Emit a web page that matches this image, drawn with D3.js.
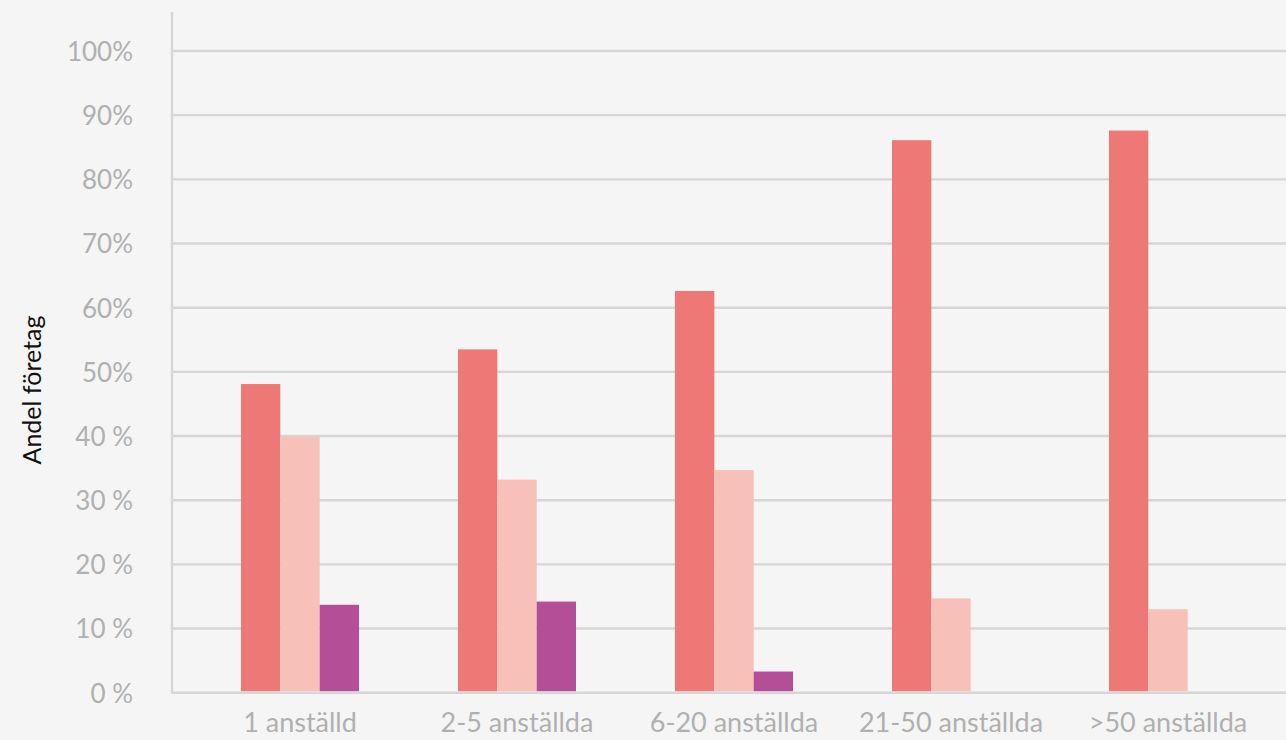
<!DOCTYPE html>
<html><head><meta charset="utf-8">
<script src="https://cdn.jsdelivr.net/npm/d3@7"></script>
<style>
html,body{margin:0;padding:0;background:#f5f5f5;}
svg{display:block;}
</style></head>
<body>
<svg id="chart" width="1286" height="740"></svg>
<script>
const categories = ["1 anställd", "2-5 anställda", "6-20 anställda", "21-50 anställda", ">50 anställda"];
const seriesNames = ["Serie 1", "Serie 2", "Serie 3"];
const series1 = [48.1, 53.5, 62.6, 86.1, 87.6];
const series2 = [39.9, 33.2, 34.7, 14.7, 13.0];
const series3 = [13.7, 14.2, 3.3, null, null];
const tickValues = [0, 10, 20, 30, 40, 50, 60, 70, 80, 90, 100];
const tickLabels = ["0 %", "10 %", "20 %", "30 %", "40 %", "50%", "60%", "70%", "80%", "90%", "100%"];
const colors = ["#ee7875", "#f7c0b8", "#b44f97"];
const yTitle = "Andel företag";

const svg = d3.select("#chart");
const W = 1286, H = 740;
svg.append("rect").attr("width", W).attr("height", H).attr("fill", "#f5f5f5");

const plotLeft = 172, plotRight = 1286;
const y = d3.scaleLinear().domain([0, 100]).range([692.7, 51]);
const x = d3.scaleBand().domain(categories).range([191.5, 1276.5]).paddingInner(0.456).paddingOuter(0.228);
const xs = d3.scaleBand().domain(seriesNames).range([0, x.bandwidth()]);

// gridlines
svg.append("g").selectAll("line").data(tickValues).join("line")
  .attr("x1", plotLeft).attr("x2", plotRight)
  .attr("y1", d => y(d)).attr("y2", d => y(d))
  .attr("stroke", "#d6d6d6").attr("stroke-width", 2.4);

// y axis line
svg.append("line").attr("x1", plotLeft).attr("x2", plotLeft)
  .attr("y1", 12).attr("y2", y(0) + 1)
  .attr("stroke", "#d6d6d6").attr("stroke-width", 2.4);

// bars
const allSeries = [series1, series2, series3];
const rows = [];
categories.forEach((c, i) => {
  allSeries.forEach((s, j) => {
    if (s[i] != null) rows.push({cat: c, ser: seriesNames[j], v: s[i], color: colors[j]});
  });
});
svg.append("g").selectAll("rect").data(rows).join("rect")
  .attr("x", d => x(d.cat) + xs(d.ser))
  .attr("width", xs.bandwidth())
  .attr("y", d => y(d.v))
  .attr("height", d => y(0) - 1.5 - y(d.v))
  .attr("fill", d => d.color);

const font = "Lato, 'Open Sans', sans-serif";

// y axis labels
const yAxis = d3.axisLeft(y).tickValues(tickValues)
  .tickFormat((d, i) => tickLabels[i]).tickSize(0).tickPadding(0);
const gy = svg.append("g").attr("transform", `translate(133,0)`).call(yAxis);
gy.select(".domain").remove();
gy.selectAll("text").attr("fill", "#b0b0b0")
  .style("font-family", font)
  .style("font-size", "26px").attr("dy", "0.36em");

// x axis labels
const xAxis = d3.axisBottom(x).tickSize(0).tickPadding(0);
const gx = svg.append("g").attr("transform", `translate(0,713)`).call(xAxis);
gx.select(".domain").remove();
gx.selectAll("text").attr("fill", "#b0b0b0")
  .style("font-family", font)
  .style("font-size", "27px").attr("dy", "0.71em");

// y title
svg.append("text")
  .attr("transform", "translate(41,390) rotate(-90)")
  .attr("text-anchor", "middle")
  .attr("fill", "#111")
  .style("font-family", font)
  .style("font-size", "25px")
  .text(yTitle);
</script>
</body></html>
